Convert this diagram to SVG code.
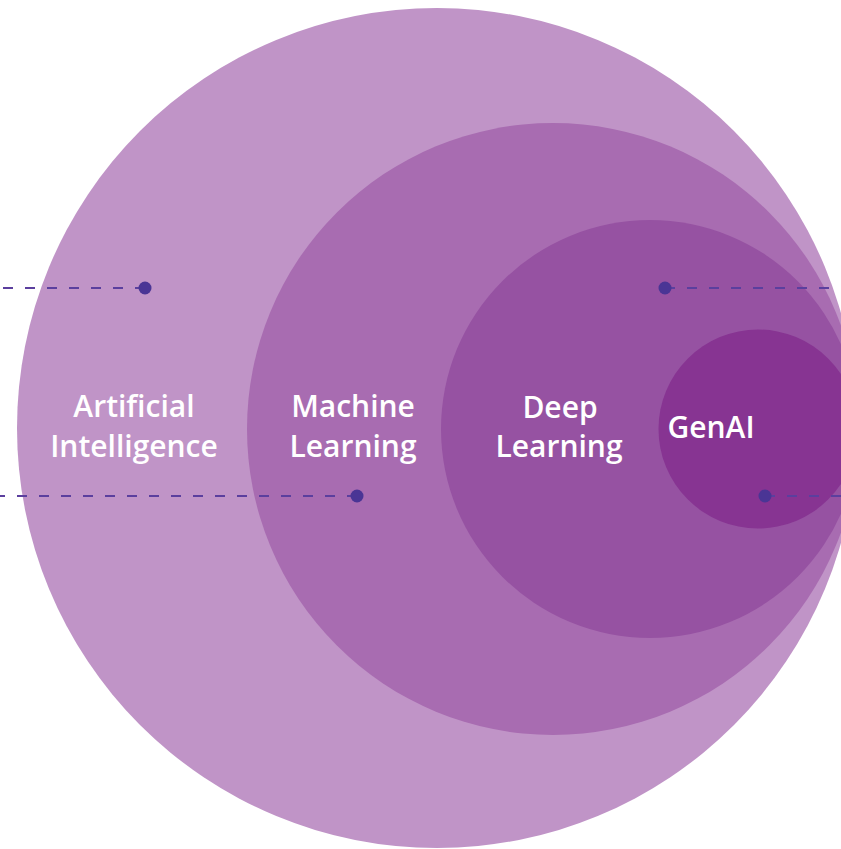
<svg xmlns="http://www.w3.org/2000/svg" width="841" height="849" viewBox="0 0 841 849">
<style>
.lbl{font-family:"Open Sans","Noto Sans","Liberation Sans",sans-serif;font-weight:600;font-size:30px;fill:#ffffff;text-anchor:middle}
.dash{stroke:#5b3f9e;stroke-width:2;stroke-dasharray:10 12;fill:none}
.dot{fill:#4a3595}
</style>
<rect width="841" height="849" fill="#ffffff"/>
<g id="ai">
<circle cx="437" cy="428" r="420" fill="#c094c7"/>
<text class="lbl" x="134" y="417">Artificial</text>
<text class="lbl" x="134" y="457">Intelligence</text>
</g>
<g id="ml">
<circle cx="553" cy="429" r="306" fill="#a86cb1"/>
<text class="lbl" x="353" y="417">Machine</text>
<text class="lbl" x="353" y="457">Learning</text>
</g>
<g id="dl">
<circle cx="650" cy="429" r="209" fill="#9652a2"/>
<text class="lbl" x="560" y="418">Deep</text>
<text class="lbl" x="559" y="457">Learning</text>
</g>
<g id="genai">
<circle cx="758" cy="429" r="99.5" fill="#873492"/>
<text class="lbl" x="711" y="438">GenAI</text>
</g>
<g id="connectors">
<path class="dash" d="M145 288 H0"/>
<circle class="dot" cx="145" cy="288" r="6.5"/>
<path class="dash" d="M357 496 H0"/>
<circle class="dot" cx="357" cy="496" r="6.5"/>
<path class="dash" d="M665 288 H841"/>
<circle class="dot" cx="665" cy="288" r="6.5"/>
<path class="dash" d="M765 496 H841"/>
<circle class="dot" cx="765" cy="496" r="6.5"/>
</g>
</svg>
